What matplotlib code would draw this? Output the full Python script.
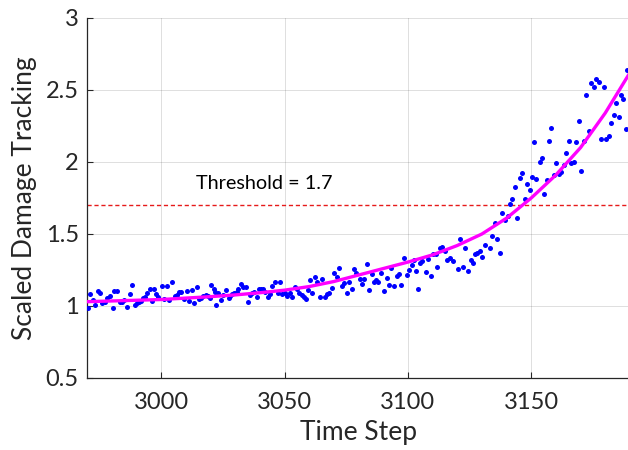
import matplotlib
matplotlib.use('Agg')
import matplotlib.pyplot as plt

# scattered damage estimates as (time step, value)
pts_a = [(2970.3, 0.984), (2971.3, 1.083), (2972.2, 1.04), (2973.3, 1.01), (2974.4, 1.104),
         (2975.3, 1.09), (2976.2, 1.02), (2977.3, 1.025), (2978.0, 1.058), (2979.1, 1.07),
         (2980.3, 0.984), (2981.0, 1.104), (2982.2, 1.106), (2983.1, 1.025), (2984.0, 1.03),
         (2985.1, 1.04), (2986.2, 0.99), (2987.2, 1.08), (2988.3, 1.146), (2989.2, 1.007),
         (2990.2, 1.018), (2990.8, 1.025), (2991.9, 1.037), (2992.8, 1.053), (2993.5, 1.06),
         (2994.3, 1.088), (2995.3, 1.116), (2996.2, 1.037), (2997.2, 1.116), (2998.0, 1.08),
         (2998.9, 1.065), (3000.3, 1.137), (3001.3, 1.046), (3002.3, 1.14), (3003.2, 1.04),
         (3004.3, 1.164), (3005.4, 1.07), (3006.4, 1.076)]
pts_b = [(3007.3, 1.095), (3008.1, 1.10), (3009.4, 1.049), (3010.4, 1.104), (3011.3, 1.035),
         (3012.4, 1.11), (3013.4, 1.018), (3014.4, 1.13), (3015.4, 1.049), (3016.2, 1.057),
         (3017.1, 1.07), (3018.1, 1.076), (3018.9, 1.07), (3019.6, 1.057), (3020.2, 1.146),
         (3021.2, 1.116), (3021.9, 1.10), (3022.3, 1.01), (3023.2, 1.088), (3024.3, 1.04),
         (3025.2, 1.076), (3026.2, 1.11), (3027.3, 1.053), (3027.9, 1.07), (3028.9, 1.08),
         (3029.7, 1.088), (3030.6, 1.10), (3031.3, 1.118), (3032.3, 1.15), (3033.3, 1.13),
         (3034.3, 1.13), (3035.1, 1.03), (3036.0, 1.076), (3036.7, 1.088), (3037.8, 1.10),
         (3038.7, 1.065), (3039.7, 1.118), (3040.5, 1.118), (3041.4, 1.118), (3042.1, 1.095)]
pts_c = [(3043.2, 1.06), (3044.1, 1.083), (3045.1, 1.139), (3046.2, 1.17), (3047.2, 1.088),
         (3048.2, 1.165), (3049.1, 1.083), (3050.2, 1.092), (3051.1, 1.07), (3052.2, 1.092),
         (3053.2, 1.065), (3054.2, 1.13), (3055.2, 1.116), (3056.0, 1.088), (3057.0, 1.076),
         (3058.0, 1.06), (3058.6, 1.046), (3059.4, 1.11), (3060.3, 1.18), (3061.3, 1.092),
         (3062.3, 1.204), (3063.3, 1.165), (3064.4, 1.06), (3065.3, 1.185), (3066.4, 1.065),
         (3067.2, 1.08), (3068.0, 1.088), (3069.4, 1.122), (3070.2, 1.226), (3071.3, 1.199),
         (3072.1, 1.266), (3073.2, 1.137), (3074.2, 1.16), (3075.3, 1.088), (3076.1, 1.165),
         (3077.2, 1.116), (3078.3, 1.254), (3078.8, 1.231)]
pts_d = [(3080.6, 1.185), (3081.3, 1.153), (3082.3, 1.188), (3083.3, 1.289), (3084.2, 1.11),
         (3085.3, 1.22), (3086.2, 1.17), (3087.0, 1.18), (3088.0, 1.165), (3089.3, 1.23),
         (3090.3, 1.104), (3091.4, 1.192), (3092.4, 1.146), (3093.3, 1.266), (3094.5, 1.137),
         (3095.4, 1.208), (3096.4, 1.22), (3097.4, 1.146), (3098.4, 1.33), (3099.5, 1.215),
         (3100.4, 1.25), (3101.5, 1.285), (3102.4, 1.32), (3103.2, 1.243), (3104.2, 1.118),
         (3105.1, 1.30), (3105.9, 1.313), (3107.2, 1.233), (3108.2, 1.323), (3109.3, 1.205),
         (3110.2, 1.358), (3111.2, 1.36), (3112.0, 1.268), (3112.9, 1.40), (3113.9, 1.412),
         (3115.0, 1.38), (3115.7, 1.32)]
pts_e = [(3117.0, 1.33), (3118.4, 1.31), (3120.4, 1.26), (3121.3, 1.465), (3122.3, 1.27),
         (3123.3, 1.405), (3124.2, 1.24), (3125.5, 1.32), (3126.4, 1.30), (3127.1, 1.361),
         (3128.0, 1.37), (3129.1, 1.384), (3130.0, 1.343), (3131.2, 1.424), (3133.2, 1.40),
         (3134.1, 1.486), (3135.2, 1.574), (3136.2, 1.463), (3137.2, 1.366), (3138.2, 1.644),
         (3139.3, 1.60), (3140.4, 1.625), (3141.3, 1.708), (3142.4, 1.74), (3143.3, 1.829),
         (3144.3, 1.609), (3145.3, 1.887), (3146.3, 1.926), (3147.4, 1.74), (3148.3, 1.847),
         (3149.4, 1.806), (3150.3, 1.893), (3151.2, 2.136), (3152.1, 1.88)]
pts_f = [(3153.4, 2.003), (3154.4, 2.026), (3155.2, 1.778), (3156.4, 1.875), (3157.2, 2.146),
         (3158.2, 2.233), (3159.2, 1.91), (3160.2, 1.99), (3161.1, 1.92), (3161.9, 1.933),
         (3163.3, 1.979), (3164.2, 2.06), (3165.3, 2.148), (3166.2, 1.99), (3167.3, 2.003),
         (3168.3, 2.14), (3169.2, 2.287), (3170.3, 1.94), (3171.4, 2.146), (3172.4, 2.465),
         (3173.3, 2.215), (3174.3, 2.546), (3175.3, 2.518), (3176.4, 2.574), (3177.3, 2.553),
         (3178.1, 2.157), (3179.4, 2.523), (3180.2, 2.157), (3181.4, 2.18), (3182.5, 2.273),
         (3183.4, 2.326), (3184.5, 2.407), (3185.4, 2.31), (3186.2, 2.467), (3187.2, 2.44),
         (3188.3, 2.226), (3188.9, 2.639)]

# fitted trend, read every 10 steps
curve_x = [2970, 2980, 2990, 3000, 3010, 3020, 3030, 3040, 3050, 3060, 3070, 3080,
           3090, 3100, 3110, 3120, 3130, 3140, 3150, 3160, 3170, 3180, 3190]
curve_y = [1.03, 1.035, 1.04, 1.045, 1.055, 1.065, 1.077, 1.092, 1.11, 1.135, 1.17, 1.215,
           1.26, 1.305, 1.355, 1.42, 1.50, 1.61, 1.75, 1.91, 2.10, 2.34, 2.62]

threshold = 1.7
x_ticks = [3000, 3050, 3100, 3150]
y_ticks = [0.5, 1, 1.5, 2, 2.5, 3]
y_tick_labels = ['0.5', '1', '1.5', '2', '2.5', '3']

plt.rcParams['font.family'] = ['Lato', 'DejaVu Sans']
dark = (0.15, 0.15, 0.15)

fig = plt.figure(figsize=(6.28, 4.5), dpi=100)
ax = fig.add_axes([87.2 / 628, 72 / 450, 542.7 / 628, 360 / 450])

pts = pts_a + pts_b + pts_c + pts_d + pts_e + pts_f
ax.plot([p[0] for p in pts], [p[1] for p in pts], 'o', color=(0, 0, 1),
        markersize=3.6, markeredgewidth=0, zorder=3)
ax.plot(curve_x, curve_y, color=(1, 0, 1), linewidth=2.4, zorder=4)
ax.axhline(threshold, color=(0.9, 0.1, 0.1), linewidth=1.0,
           linestyle=(0, (3, 2)), zorder=2)
ax.text(3041.7, 1.85, 'Threshold = 1.7', ha='center', va='center',
        fontsize=14.3, color='black')

ax.set_xlim(2970, 3190)
ax.set_ylim(0.5, 3)
ax.set_xticks(x_ticks)
ax.set_yticks(y_ticks)
ax.set_yticklabels(y_tick_labels)
ax.grid(True, color=dark, alpha=0.15, linewidth=0.7)
ax.set_axisbelow(True)

for side in ['top', 'right']:
    ax.spines[side].set_visible(False)
for side in ['left', 'bottom']:
    ax.spines[side].set_color(dark)
    ax.spines[side].set_linewidth(0.9)
ax.tick_params(direction='in', length=4, width=0.8, colors=dark, labelsize=17)
ax.tick_params(axis='x', pad=10)
ax.tick_params(axis='y', pad=6)

ax.set_xlabel('Time Step', fontsize=19, color=dark, labelpad=5)
ax.set_ylabel('Scaled Damage Tracking', fontsize=19, color=dark, labelpad=6)

fig.savefig('out.png', dpi=100)
